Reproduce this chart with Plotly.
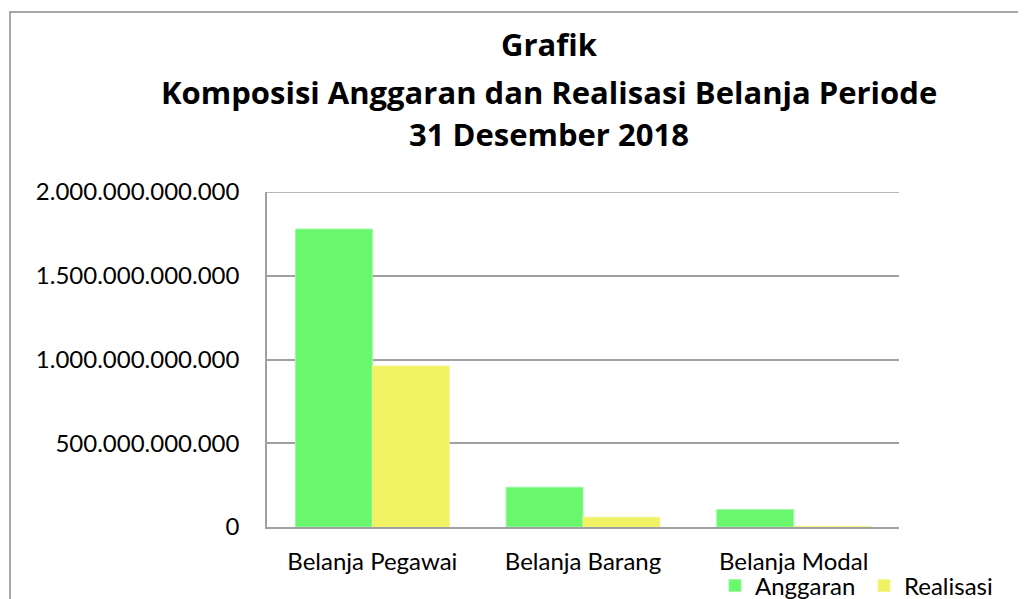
import plotly.graph_objects as go

categories = ["Belanja Pegawai", "Belanja Barang", "Belanja Modal"]
anggaran = [1_779_000_000_000, 237_500_000_000, 104_000_000_000]
realisasi = [961_000_000_000, 58_000_000_000, 4_000_000_000]
y_ticks = [0, 500_000_000_000, 1_000_000_000_000, 1_500_000_000_000, 2_000_000_000_000]
title_lines = ["Grafik", "Komposisi Anggaran dan Realisasi Belanja Periode", "31 Desember 2018"]

OFF = 8  # page body margin
W, H = 1026 - OFF, 599 - OFF
L = 267 - OFF
T = 192 - OFF
R = W - (899 - OFF)
B = H - (527 - OFF)
pw, ph = W - L - R, H - T - B

def px(x):  # page pixel -> paper x
    return (x - OFF - L) / pw

def py(y):  # page pixel -> paper y
    return (H - B - (y - OFF)) / ph

FONT = "Lato"
TFONT = "Open Sans"

fig = go.Figure()
fig.add_trace(go.Bar(name="Anggaran", x=categories, y=anggaran,
                     marker=dict(color="#69F76E", line=dict(color="#9CF99F", width=1))))
fig.add_trace(go.Bar(name="Realisasi", x=categories, y=realisasi,
                     marker=dict(color="#F0F264", line=dict(color="#F3F58A", width=1))))

annotations = []
for line, yp in zip(title_lines, [44, 92, 134]):
    annotations.append(dict(text="<b>%s</b>" % line, x=px(549), y=py(yp), xref="paper", yref="paper",
                            xanchor="center", yanchor="middle", showarrow=False,
                            font=dict(family=TFONT, size=31, color="#000")))

fig.update_layout(
    width=W, height=H, autosize=False,
    margin=dict(l=L, r=R, t=T, b=B, pad=0, autoexpand=False),
    paper_bgcolor="white", plot_bgcolor="white",
    separators=",.",
    barmode="group", bargap=0.27, bargroupgap=0,
    font=dict(family=FONT, size=24, color="#000"),
    showlegend=True,
    legend=dict(orientation="h", xref="container", yref="container",
                x=(715 - OFF) / W, y=1 - (586 - OFF) / H, xanchor="left", yanchor="middle",
                font=dict(family=FONT, size=24, color="#000"), bgcolor="rgba(0,0,0,0)",
                tracegroupgap=0, entrywidth=104, borderwidth=0),
    annotations=annotations,
    shapes=[dict(type="rect", xref="paper", yref="paper",
                 x0=px(10), x1=px(1040), y0=py(620), y1=py(12),
                 line=dict(color="#8C8C8C", width=1.5), fillcolor="rgba(0,0,0,0)", layer="below"),
            dict(type="line", xref="paper", yref="y", x0=0, x1=1,
                 y0=y_ticks[-1], y1=y_ticks[-1],
                 line=dict(color="#A0A0A0", width=1.5), layer="below")],
)
fig.update_yaxes(range=[0, 2_000_000_000_000], tickvals=y_ticks, tickformat=",.0f",
                 showgrid=True, gridcolor="#A0A0A0", gridwidth=1.5,
                 showline=True, linecolor="#A0A0A0", linewidth=1.5,
                 zeroline=False, ticks="", ticklabelstandoff=21, automargin=False,
                 tickfont=dict(family=FONT, size=24, color="#000"))
fig.update_xaxes(showline=True, linecolor="#A0A0A0", linewidth=1.5, ticks="",
                 ticklabelstandoff=12, showgrid=False, automargin=False,
                 tickfont=dict(family=FONT, size=24, color="#000"))

fig.write_html("out.html")
